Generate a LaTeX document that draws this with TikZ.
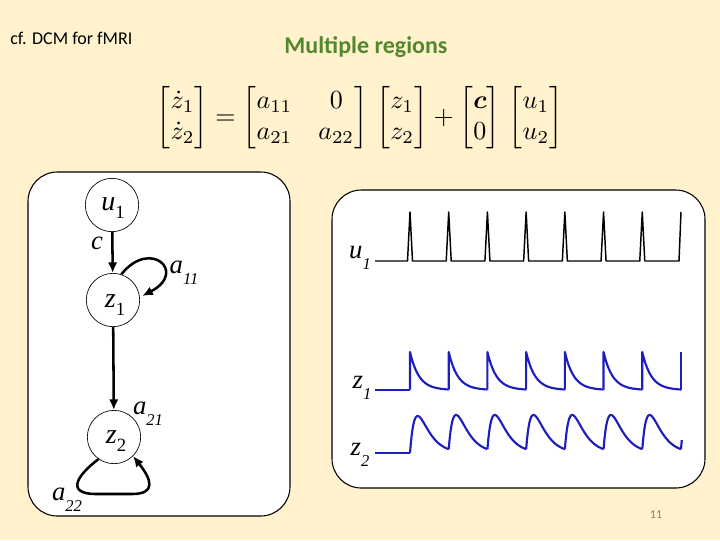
\documentclass[tikz,border=0pt]{standalone}
\usepackage{amsmath,amssymb}
\usepackage{graphicx}
\usepackage{fontspec}
\newfontfamily\carl{Carlito}
\newfontfamily\tms{Liberation Serif}
\usetikzlibrary{arrows.meta}
\definecolor{bgc}{RGB}{255,242,204}
\definecolor{ttl}{RGB}{84,136,46}
\definecolor{trc}{RGB}{30,30,190}
\definecolor{pgn}{RGB}{140,125,95}
\newcommand\lbl[3]{{\tms\fontsize{#3}{#3}\selectfont\itshape #1\raisebox{-0.4em}{\fontsize{0.62\dimexpr#3pt\relax}{1em}\selectfont #2}}}
\newcommand\clbl[2]{{\tms\fontsize{21}{21}\selectfont\itshape #1\raisebox{-0.3em}{\upshape\fontsize{14}{14}\selectfont #2}}}
\tikzset{
  panel/.style={draw=black, line width=0.8pt, fill=white, rounded corners=22pt},
  state/.style={circle, draw=black, line width=0.5pt, minimum size=40pt, inner sep=0pt, fill=white},
  arr/.style={line width=1.9pt, -{Latex[length=8pt,width=7pt]}},
  lab/.style={inner sep=0pt},
  ublk/.style={line width=1.1pt, line join=round},
  zblu/.style={trc, line width=1.6pt, line join=round},
}
\begin{document}
\begin{tikzpicture}[x=0.75pt,y=-0.75pt]
\fill[bgc] (0,0) rectangle (720,540);
\useasboundingbox (0,0) rectangle (720,540);

\node[anchor=west, inner sep=0pt, font=\carl\fontsize{13.5}{15}\selectfont] (cf) at (10,38) {cf. DCM for fMRI};
\node[inner sep=0pt, font=\carl\bfseries\fontsize{18}{20}\selectfont, text=ttl] (title) at (366,47) {Multiple regions};
\node[inner sep=0pt] (eq) at (360,118) {\resizebox{304.5pt}{!}{$\begin{bmatrix}\dot z_1\\ \dot z_2\end{bmatrix}=\begin{bmatrix}a_{11} & 0\\ a_{21} & a_{22}\end{bmatrix}\,\begin{bmatrix}z_1\\ z_2\end{bmatrix}+\begin{bmatrix}\boldsymbol{c}\\ 0\end{bmatrix}\,\begin{bmatrix}u_1\\ u_2\end{bmatrix}$}};
\node[inner sep=0pt, font=\carl\fontsize{9}{10}\selectfont, text=pgn] (pg) at (656,515) {11};

% left panel
\draw[panel] (28,172) rectangle (290,516);
\node[state] (u1) at (112,205) {};
\node[state] (z1) at (113,300) {};
\node[state] (z2) at (114,437) {};
\node[lab] (u1t) at (113,208) {\clbl{u}{1}};
\node[lab] (z1t) at (115,305) {\clbl{z}{1}};
\node[lab] (z2t) at (116,441) {\clbl{z}{2}};

\draw[arr] (u1) -- (z1);
\draw[arr] (z1) -- (z2);
\draw[arr, shorten >=2pt] (z1.72) .. controls (150,238) and (188,272) .. (z1.6);
\draw[arr] (z2.235) .. controls (76,476) and (66,494) .. (96,494) -- (132,494) .. controls (156,494) and (152,480) .. (z2.-45);

\node[lab] (lc) at (97,249) {\lbl{c}{}{20}};
\node[lab] (la11) at (184,273) {\lbl{a}{11}{20}};
\node[lab] (la21) at (148,414) {\lbl{a}{21}{20}};
\node[lab] (la22) at (67,500) {\lbl{a}{22}{20}};

% right panel
\draw[panel] (332,190) rectangle (705,488);
\node[lab] (ru1) at (360,258) {\lbl{u}{1}{20}};
\node[lab] (rz1) at (362,388) {\lbl{z}{1}{20}};
\node[lab] (rz2) at (360,455) {\lbl{z}{2}{20}};

\draw[ublk] (375,261) \foreach \k in {0,...,6} { -- ({410+\k*38.71-2.5},261) -- ({410+\k*38.71},212) -- ({410+\k*38.71+2.5},261) } -- (679,261) -- (681,212);

\draw[zblu] (375,390) -- (410,390);
\foreach \k in {0,...,6} {
  \pgfmathsetmacro\s{410+\k*38.71}
  \draw[zblu] (\s,389.5) -- (\s,352) -- plot[domain=0:38.71,samples=45] ({\s+\x},{390-38*exp(-\x/9)});
}
\draw[zblu] (681,389.5) -- (681,352);

\draw[zblu] (375,453) -- (410,453);
\draw[zblu] plot[domain=0:38.71,samples=45] ({410+\x},{453-37*(exp(-\x/10)-exp(-\x/6))/0.186});
\foreach \k in {1,...,6} {
  \pgfmathsetmacro\s{410+\k*38.71}
  \draw[zblu] plot[domain=0:38.71,samples=45] ({\s+\x},{453-37*((exp(-\x/10)-exp(-\x/6))/0.186+0.103*exp(-\x/6))});
}
\draw[zblu] plot[domain=0:0.8,samples=5] ({681+\x},{453-37*((exp(-\x/10)-exp(-\x/6))/0.186+0.103*exp(-\x/6))});
\end{tikzpicture}
\end{document}
